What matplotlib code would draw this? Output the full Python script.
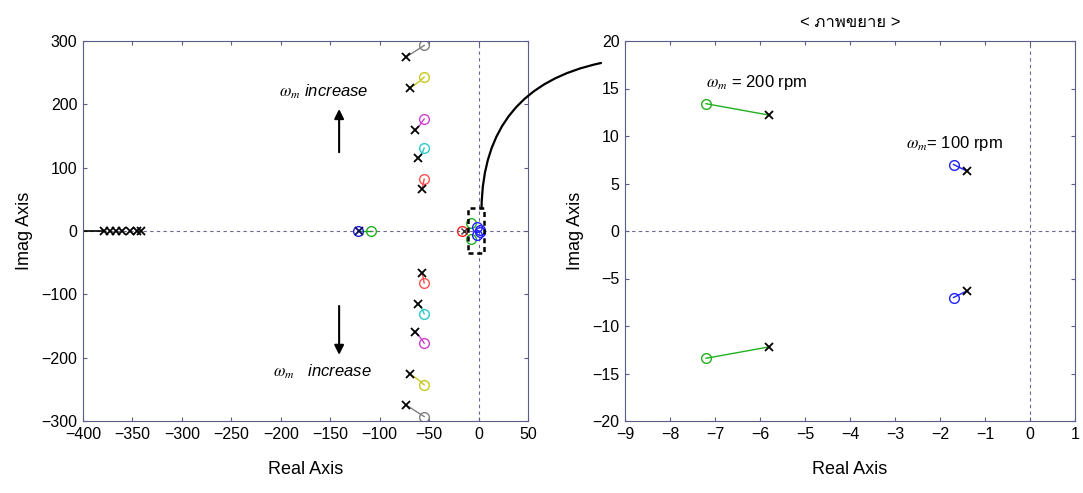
import matplotlib
matplotlib.use("Agg")
import matplotlib.pyplot as plt
from matplotlib.patches import Rectangle, ConnectionPatch
from matplotlib import font_manager
from matplotlib.ft2font import FT2Font

plt.rcParams['font.family'] = ['Liberation Sans', 'DejaVu Sans', 'Noto Sans']
plt.rcParams['mathtext.fontset'] = 'stix'

# ---- data: left (full) root locus ----
branch_colors = ['#808080', '#c8c820', '#d040d0', '#30c8c8', '#ff5050']
# complex branches: real / imag of pole (x), bend point, zero (o)
pole_re = [-73, -69, -64, -61, -57]
pole_im = [275, 226, 159, 116, 67]
mid_re = [-62, -60, -59, -57, -56]
mid_im = [286, 236, 168, 123, 74]
zero_re = [-55, -55, -55, -55, -55]
zero_im = [293, 243, 177, 131, 82]

# real-axis poles far left
far_poles = [-379, -373, -367, -361, -352, -345, -341]
far_branch_re = [-400, -379]

# poles/zeros near -120
mid_pole_re = [-121]
mid_zero_blue_re = [-122]
mid_zero_green_re = [-109]

# near origin cluster
red_zero_re = [-17]
red_pole_re = [-15]
green_zero = (-7.2, 13.4)
green_pole = (-5.8, 12.2)
blue_zero = (-1.7, 7.0)
blue_pole = (-1.4, 6.3)

# zoom box
box_re = [-11, 6]
box_im = [-34, 36]

left_xticks = [-400, -350, -300, -250, -200, -150, -100, -50, 0, 50]
left_yticks = [-300, -200, -100, 0, 100, 200, 300]
right_xticks = [-9, -8, -7, -6, -5, -4, -3, -2, -1, 0, 1]
right_yticks = [-20, -15, -10, -5, 0, 5, 10, 15, 20]

title_text = '< ภาพขยาย >'

spine_c = '#5b5b8c'
dash_c = '#6a6a90'


def find_family(ch):
    seen = set()
    for f in font_manager.fontManager.ttflist:
        if f.fname in seen:
            continue
        seen.add(f.fname)
        try:
            ft = FT2Font(f.fname)
            if ft.get_char_index(ord(ch)):
                return f.name
        except Exception:
            pass
    return None

thai_fam = find_family('ภ')
title_fams = ['Liberation Sans'] + ([thai_fam] if thai_fam else []) + ['DejaVu Sans']

fig = plt.figure(figsize=(10.83, 4.93), dpi=100)
ax1 = fig.add_axes([83/1083, 1-421/493, (528-83)/1083, (421-41)/493])
ax2 = fig.add_axes([625/1083, 1-421/493, (1075-625)/1083, (421-41)/493])

def style(ax):
    for s in ax.spines.values():
        s.set_color(spine_c)
        s.set_linewidth(0.8)
    ax.tick_params(direction='in', top=True, right=True, color=spine_c,
                   labelsize=11.5, length=3, pad=4)
    ax.axhline(0, color=dash_c, ls=(0, (3, 3)), lw=0.8, zorder=0)
    ax.axvline(0, color=dash_c, ls=(0, (3, 3)), lw=0.8, zorder=0)
    ax.set_xlabel('Real Axis', fontsize=13, labelpad=14)
    ax.set_ylabel('Imag Axis', fontsize=13, labelpad=6)

style(ax1)
style(ax2)

ms_o = 7
ms_x = 6
# left plot
for c, pr, pi, mr, mi, zr, zi in zip(branch_colors, pole_re, pole_im, mid_re, mid_im, zero_re, zero_im):
    for s in (1, -1):
        ax1.plot([pr, mr, zr], [s*pi, s*mi, s*zi], color=c, lw=1)
        ax1.plot(zr, s*zi, 'o', mfc='none', mec=c, ms=ms_o, mew=1)
        ax1.plot(pr, s*pi, 'x', color='k', ms=ms_x, mew=1.3)

ax1.plot(far_branch_re, [0, 0], color='k', lw=1.2)
ax1.plot(far_poles, [0]*len(far_poles), 'x', color='k', ms=ms_x, mew=1.3, ls='none')

ax1.plot([mid_pole_re[0], mid_zero_green_re[0]], [0, 0], color='#20a020', lw=1)
ax1.plot(mid_zero_green_re, [0], 'o', mfc='none', mec='#20b020', ms=ms_o, mew=1)
ax1.plot(mid_zero_blue_re, [0], 'o', mfc='none', mec='#2020e0', ms=ms_o, mew=1)
ax1.plot(mid_pole_re, [0], 'x', color='#101060', ms=ms_x, mew=1.3)

ax1.plot(red_zero_re, [0], 'o', mfc='none', mec='#ff2020', ms=ms_o, mew=1)
ax1.plot(red_pole_re, [0], 'x', color='#303030', ms=4, mew=1)
for s in (1, -1):
    ax1.plot(green_zero[0], s*green_zero[1], 'o', mfc='none', mec='#20b020', ms=ms_o, mew=1)
    ax1.plot(blue_zero[0], s*blue_zero[1], 'o', mfc='none', mec='#2020ff', ms=ms_o, mew=1)
    ax1.plot(blue_zero[0]+3, s*blue_zero[1]*0.2, 'o', mfc='none', mec='#2020ff', ms=ms_o, mew=1)

ax1.add_patch(Rectangle((box_re[0], box_im[0]), box_re[1]-box_re[0], box_im[1]-box_im[0],
                        fill=False, ls=(0, (2, 1.5)), lw=1.8, ec='k', zorder=5))

ax1.set_xlim(-400, 50)
ax1.set_ylim(-300, 300)
ax1.set_xticks(left_xticks)
ax1.set_yticks(left_yticks)

ax1.text(-157, 219, r'$\omega_m$' + ' increase', fontsize=12, style='italic',
         ha='center', va='center')
ax1.text(-158, -222, r'$\omega_m$' + '   increase', fontsize=12, style='italic',
         ha='center', va='center')
ax1.annotate('', xy=(-141, 197), xytext=(-141, 120),
             arrowprops=dict(arrowstyle='-|>', color='k', lw=1.5, mutation_scale=14))
ax1.annotate('', xy=(-141, -200), xytext=(-141, -114),
             arrowprops=dict(arrowstyle='-|>', color='k', lw=1.5, mutation_scale=14))

# right (zoom) plot
for s in (1, -1):
    ax2.plot([green_zero[0], green_pole[0]], [s*green_zero[1], s*green_pole[1]], color='#20b020', lw=1)
    ax2.plot(green_zero[0], s*green_zero[1], 'o', mfc='none', mec='#20b020', ms=ms_o, mew=1)
    ax2.plot(green_pole[0], s*green_pole[1], 'x', color='k', ms=ms_x, mew=1.3)
    ax2.plot([blue_zero[0], blue_pole[0]], [s*blue_zero[1], s*blue_pole[1]], color='#2020ff', lw=1)
    ax2.plot(blue_zero[0], s*blue_zero[1], 'o', mfc='none', mec='#2020ff', ms=ms_o, mew=1)
    ax2.plot(blue_pole[0], s*blue_pole[1], 'x', color='k', ms=ms_x, mew=1.3)

ax2.text(-7.2, 15.6, r'$\omega_m$' + ' = 200 rpm', fontsize=12, ha='left', va='center')
ax2.text(-2.75, 9.2, r'$\omega_m$' + '= 100 rpm', fontsize=12, ha='left', va='center')
ax2.set_xlim(-9, 1)
ax2.set_ylim(-20, 20)
ax2.set_xticks(right_xticks)
ax2.set_yticks(right_yticks)
ax2.set_title(title_text, fontsize=12, pad=10, family=title_fams)

con = ConnectionPatch(xyA=(3, box_im[1]), coordsA=ax1.transData,
                      xyB=(601/1083, 1-63/493), coordsB=fig.transFigure,
                      connectionstyle='arc3,rad=-0.4', color='k', lw=1.6)
fig.add_artist(con)

fig.savefig('out.png', dpi=100)
